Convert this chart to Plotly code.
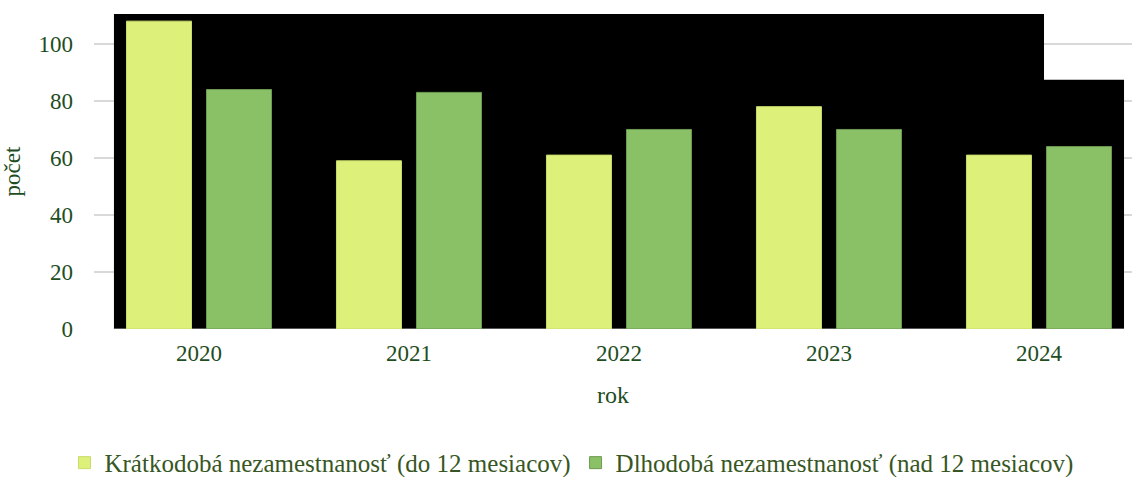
import plotly.graph_objects as go

years = ["2020", "2021", "2022", "2023", "2024"]
short_term = [108, 59, 61, 78, 61]
long_term = [84, 83, 70, 70, 64]
series_names = ["Krátkodobá nezamestnanosť (do 12 mesiacov)",
                "Dlhodobá nezamestnanosť (nad 12 mesiacov)"]
y_ticks = [0, 20, 40, 60, 80, 100]

FONT = "Liberation Serif"
TXT = "#1E4D1E"

fig = go.Figure()
fig.add_trace(go.Bar(x=years, y=short_term, name=series_names[0],
                     marker=dict(color="#DDF07A", line=dict(color="#C9DC6C", width=1))))
fig.add_trace(go.Bar(x=years, y=long_term, name=series_names[1],
                     marker=dict(color="#8AC066", line=dict(color="#6E9A52", width=1))))

# black background panels (as in the reference picture)
fig.add_shape(type="rect", xref="x", yref="y", x0=-0.405, x1=4.024, y0=0, y1=110.5,
              fillcolor="black", line=dict(width=0), layer="between")
fig.add_shape(type="rect", xref="x", yref="y", x0=4.024, x1=4.405, y0=0, y1=87.4,
              fillcolor="black", line=dict(width=0), layer="between")
fig.add_shape(type="line", xref="x", yref="y", x0=-0.405, x1=4.405, y0=0, y1=0,
              line=dict(color="#555555", width=2), layer="between")

fig.update_layout(
    width=1132, height=477,
    margin=dict(l=94, r=0, t=14, b=148, autoexpand=False),
    paper_bgcolor="white", plot_bgcolor="white",
    barmode="group", bargap=0.238, bargroupgap=0.1875,
    font=dict(family=FONT, size=23, color=TXT),
    showlegend=True,
    legend=dict(orientation="h", x=0.46, xanchor="center", y=-0.425, yanchor="middle",
                font=dict(family=FONT, size=25, color="#375623"),
                itemwidth=30, tracegroupgap=0),
    xaxis=dict(range=[-0.5, 4.443], showgrid=False, zeroline=False, automargin=False,
               tickfont=dict(family=FONT, size=23, color=TXT),
               ticks="", ticklabelstandoff=8,
               title=dict(text="rok", font=dict(family=FONT, size=24, color=TXT), standoff=21)),
    yaxis=dict(range=[0, 110.5], tickvals=y_ticks, showgrid=True, gridcolor="#D9D9D9",
               gridwidth=2, zeroline=False, automargin=False,
               tickfont=dict(family=FONT, size=23, color=TXT),
               ticks="", ticklabelstandoff=20,
               title=dict(text="počet", font=dict(family=FONT, size=23, color=TXT), standoff=11)),
)

fig.write_html("out.html", config={"displayModeBar": False},
               post_script="document.body.style.margin='0';")
